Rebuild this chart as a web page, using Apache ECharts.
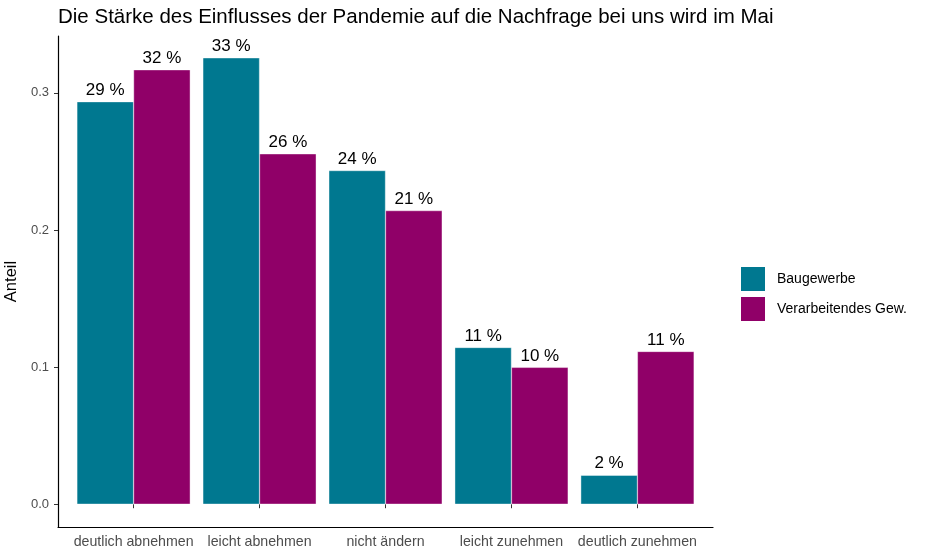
<!DOCTYPE html>
<html><head><meta charset="utf-8">
<script src="https://cdn.jsdelivr.net/npm/echarts@6/dist/echarts.min.js"></script>
<style>html,body{margin:0;padding:0;background:#fff}#c{width:930px;height:555px}</style>
</head><body><div id="c"></div>
<script>
const categories = ["deutlich abnehmen","leicht abnehmen","nicht ändern","leicht zunehmen","deutlich zunehmen"];
const seriesNames = ["Baugewerbe","Verarbeitendes Gew."];
const baugewerbe = [0.2935, 0.3255, 0.2433, 0.1143, 0.0211];
const verarbeitend = [0.3168, 0.2555, 0.2141, 0.0998, 0.1114];
const yTicks = [0, 0.1, 0.2, 0.3];
const yMin = -0.0166, yMax = 0.3414;
const colors = ["#007890", "#900068"];
const FONT = "Liberation Sans";

const chart = echarts.init(document.getElementById('c'), null, {renderer:'canvas'});
const lbl = {show:true, position:'top', distance:3, color:'#000', fontSize:17, fontFamily:FONT,
  formatter: p => Math.round(p.value*100) + ' %'};
chart.setOption({
  animation:false,
  backgroundColor:'#fff',
  title:{text:"Die Stärke des Einflusses der Pandemie auf die Nachfrage bei uns wird im Mai",
    left:58, top:7, padding:0, textStyle:{fontFamily:FONT, fontSize:20.5, fontWeight:'normal', color:'#000'}},
  legend:{orient:'vertical', left:739, top:265, padding:0, itemWidth:26, itemHeight:26, itemGap:2,
    data:seriesNames, icon:'rect', textStyle:{fontFamily:FONT, fontSize:14, color:'#000', padding:[0,0,0,6]}},
  grid:[
    {left:70.6, right:229.6, top:36, bottom:28, containLabel:false, outerBoundsMode:'none'},
    {left:58, right:217, top:36, bottom:28, containLabel:false, outerBoundsMode:'none'}
  ],
  xAxis:[
    {type:'category', gridIndex:0, data:categories,
      axisLine:{show:false}, axisTick:{show:true, alignWithLabel:true, length:4, lineStyle:{color:'#333', width:1}},
      axisLabel:{interval:0, hideOverlap:false, color:'#4d4d4d', fontSize:14.2, fontFamily:FONT, margin:8}},
    {type:'value', gridIndex:1, min:0, max:1, axisLine:{show:true, onZero:false, lineStyle:{color:'#000', width:1.2}},
      axisTick:{show:false}, axisLabel:{show:false}, splitLine:{show:false}}
  ],
  yAxis:[
    {type:'value', gridIndex:0, min:yMin, max:yMax, show:false, splitLine:{show:false}},
    {type:'value', gridIndex:1, min:yMin, max:yMax,
      name:'Anteil', nameLocation:'middle', nameGap:38, nameRotate:90,
      nameTextStyle:{fontFamily:FONT, fontSize:16.5, color:'#000'},
      axisLine:{show:true, onZero:false, lineStyle:{color:'#000', width:1.2}},
      axisTick:{show:true, length:4, customValues:yTicks, lineStyle:{color:'#333'}},
      axisLabel:{customValues:yTicks, formatter:v=>v.toFixed(1), color:'#4d4d4d', fontSize:13, fontFamily:FONT, margin:9},
      splitLine:{show:false}}
  ],
  series:[
    {name:seriesNames[0], type:'bar', xAxisIndex:0, yAxisIndex:0, data:baugewerbe, barGap:'0%', barCategoryGap:'10%',
      itemStyle:{color:colors[0], borderColor:'#ffffff', borderWidth:0.4}, label:lbl},
    {name:seriesNames[1], type:'bar', xAxisIndex:0, yAxisIndex:0, data:verarbeitend, barGap:'0%', barCategoryGap:'10%',
      itemStyle:{color:colors[1], borderColor:'#ffffff', borderWidth:0.4}, label:lbl}
  ]
});
</script></body></html>
